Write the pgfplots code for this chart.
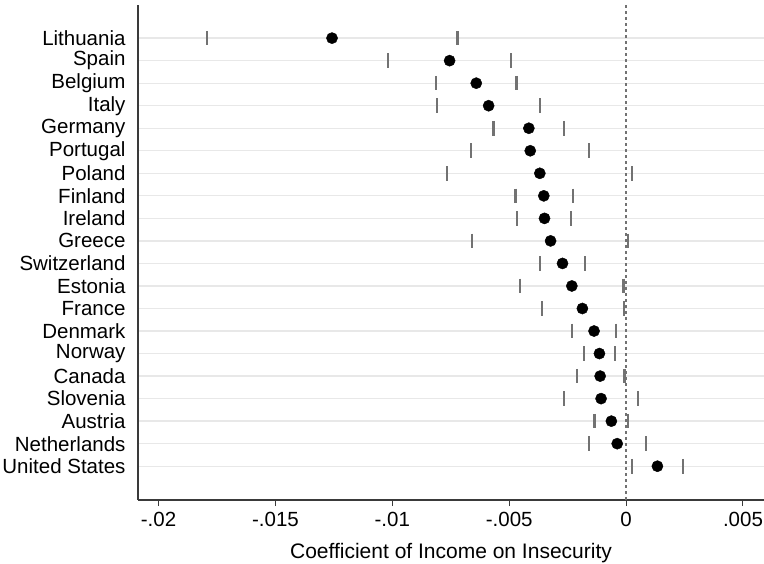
\documentclass[border=0pt]{standalone}
\usepackage{fontspec}
\setmainfont{Liberation Sans}
\usepackage{pgfplots}
\usepackage{pgfplotstable}
\pgfplotsset{compat=1.18}
\definecolor{gridc}{HTML}{E8E8E8}
\definecolor{cic}{HTML}{727272}
\definecolor{axc}{HTML}{3A3A3A}
\pgfplotstableread{
idx lo pt hi
1 -0.01792 -0.01258 -0.00721
2 -0.01020 -0.00755 -0.00491
3 -0.00815 -0.00641 -0.00469
4 -0.00808 -0.00588 -0.00368
5 -0.00567 -0.00416 -0.00265
6 -0.00662 -0.00410 -0.00158
7 -0.00768 -0.00369 0.00027
8 -0.00473 -0.00352 -0.00228
9 -0.00465 -0.00349 -0.00234
10 -0.00658 -0.00323 0.00010
11 -0.00370 -0.00272 -0.00174
12 -0.00452 -0.00232 -0.00011
13 -0.00360 -0.00187 -0.00009
14 -0.00232 -0.00137 -0.00043
15 -0.00181 -0.00114 -0.00047
16 -0.00211 -0.00111 -0.00007
17 -0.00264 -0.00107 0.00051
18 -0.00135 -0.00063 0.00010
19 -0.00160 -0.00038 0.00085
20 0.00027 0.00134 0.00244
}\coefdata
\begin{document}
\begin{tikzpicture}
\begin{axis}[
  at={(0,0)}, anchor=south west,
  scale only axis, width=626bp, height=495bp,
  xmin=-0.02088, xmax=0.0059,
  ymin=-0.47, ymax=21.5, y dir=reverse,
  axis x line*=bottom, axis y line*=left,
  axis line style={axc, line width=1.4bp},
  scaled x ticks=false,
  xtick={-0.02,-0.015,-0.01,-0.005,0,0.005},
  xticklabels={-.02,-.015,-.01,-.005,0,.005},
  ytick={1,...,20},
  yticklabels={Lithuania,Spain,Belgium,Italy,Germany,Portugal,Poland,Finland,Ireland,Greece,Switzerland,Estonia,France,Denmark,Norway,Canada,Slovenia,Austria,Netherlands,United States},
  tick align=outside,
  major tick length=6bp,
  xtick style={axc, line width=1bp},
  ytick style={draw=none},
  ymajorgrids, grid style={gridc, line width=1.3bp},
  ticklabel style={font=\fontsize{20.5bp}{24bp}\selectfont, text=black},
  yticklabel style={xshift=-3bp},
  xticklabel style={yshift=-3bp},
  xlabel={Coefficient of Income on Insecurity},
  xlabel style={font=\fontsize{21bp}{25bp}\selectfont, yshift=-9bp},
  clip=false,
]
\addplot[cic, dash pattern=on 3bp off 3bp, line width=1.4bp] coordinates {(0,-0.47) (0,21.5)};
\addplot[only marks, mark=|, mark size=7.3bp, mark options={cic, line width=2.1bp}] table[x=lo, y=idx] {\coefdata};
\addplot[only marks, mark=|, mark size=7.3bp, mark options={cic, line width=2.1bp}] table[x=hi, y=idx] {\coefdata};
\addplot[only marks, mark=*, mark size=5.6bp, mark options={black, fill=black}] table[x=pt, y=idx] {\coefdata};
\end{axis}
\pgfresetboundingbox
\path[use as bounding box] (-138bp,-64bp) rectangle (626bp,500bp);
\end{tikzpicture}
\end{document}
